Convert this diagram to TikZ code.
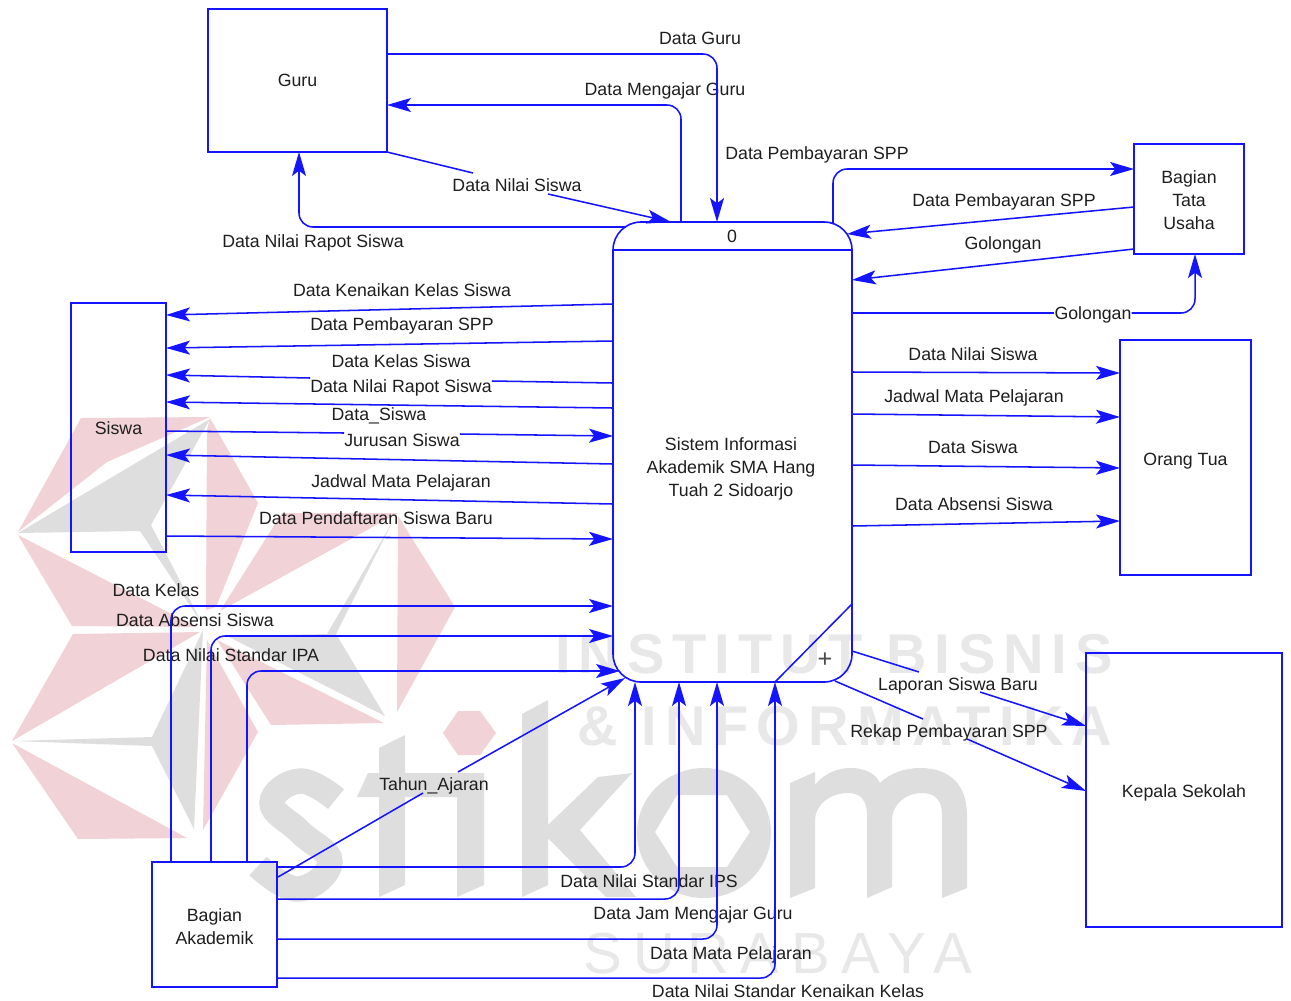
\documentclass[tikz,border=0pt]{standalone}
\usepackage{fontspec}
\setmainfont{Liberation Sans}
\usetikzlibrary{arrows.meta}
\definecolor{flow}{RGB}{20,20,255}
\definecolor{wmpink}{RGB}{241,210,214}
\definecolor{wmgray}{RGB}{222,222,222}
\definecolor{wmtext}{RGB}{232,232,232}
\definecolor{ink}{RGB}{30,30,30}
\newcommand{\dropline}[1]{\rule{0pt}{#1}}
\tikzset{
  entity/.style={draw=flow,line width=1.2pt,outer sep=0pt,inner sep=0pt,align=center,font=\fontsize{13.3}{17.25}\selectfont,text=ink},
  lab/.style={font=\fontsize{13.3}{16}\selectfont,text=ink,inner sep=0pt,text height=11.5pt,text depth=1.7pt},
  flowline/.style={draw=flow,line width=1.15pt},
  flowarrow/.style={flowline,-{Stealth[length=18pt,width=10.5pt,inset=4pt]}},
  bent/.style={rounded corners=10.5pt},
  pk/.style={fill=wmpink,draw=none},
  gy/.style={fill=wmgray,draw=none},
  wmt/.style={text=wmtext,inner sep=0pt,anchor=base west}
}
\begin{document}
\begin{tikzpicture}[x=0.75pt,y=-0.75pt]
\path[use as bounding box,fill=white] (0,0) rectangle (1291,1000);
% --- watermark star ---
\fill[pk] (81,418) -- (210,417) -- (107,462) -- (18,532) -- cycle;
\fill[gy] (210,419) -- (151,525) -- (203,625) -- (140,531) -- (18,533) -- cycle;
\fill[pk] (18,535) -- (197,627) -- (72,626) -- cycle;
\fill[pk] (210,418) -- (258,503) -- (216,607) -- (206,610) -- (207,430) -- cycle;
\fill[pk] (282,513) -- (398,513) -- (220,611) -- cycle;
\fill[pk] (398,516) -- (455,607) -- (397,712) -- cycle;
\fill[gy] (227,636) -- (327,634) -- (393,521) -- (336,634) -- (385,716) -- cycle;
\fill[pk] (73,634) -- (200,632) -- (12,741) -- cycle;
\fill[gy] (203,630) -- (152,737) -- (13,741) -- (152,746) -- (194,829) -- cycle;
\fill[pk] (12,743) -- (187,838) -- (78,839) -- cycle;
\fill[pk] (207,640) -- (258,732) -- (203,830) -- cycle;
\fill[pk] (217,640) -- (384,723) -- (271,725) -- cycle;
\fill[pk] (443,733) -- (458,711) -- (480,711) -- (496,733) -- (480,755) -- (458,755) -- cycle;
% --- watermark stikom ---
\draw[wmgray,line width=19pt] plot[smooth,tension=0.75] coordinates {(336,799) (300,781) (272,803) (300,832) (330,862) (298,889) (258,866)};
\fill[gy] (379,748) -- (405,735) -- (405,773) -- (484,773) -- (484,885) -- (457,897) -- (457,797) -- (405,797) -- (405,885) -- (379,897) -- (379,797) -- (357,797) -- (368,773) -- (379,773) -- cycle;
\fill[gy] (522,714) -- (548,700) -- (548,825) -- (598,777) -- (632,773) -- (580,830) -- (636,897) -- (606,897) -- (548,838) -- (548,885) -- (522,897) -- cycle;
\fill[gy,even odd rule] (704,833) ellipse [x radius=67,y radius=65] (655,832) -- (677,795) -- (727,795) -- (750,832) -- (727,867) -- (677,867) -- cycle;
\fill[gy] (790,783) -- (815,772) -- (815,785) .. controls (825,772) and (840,768) .. (850,768) .. controls (865,768) and (875,773) .. (880,783) .. controls (890,773) and (905,768) .. (920,768) .. controls (950,768) and (967,785) .. (967,815) -- (967,888) -- (942,898) -- (942,815) .. controls (942,800) and (935,793) .. (922,793) .. controls (905,793) and (892,805) .. (892,820) -- (892,887) -- (867,898) -- (867,815) .. controls (867,800) and (860,793) .. (848,793) .. controls (830,793) and (815,805) .. (815,820) -- (815,888) -- (790,898) -- cycle;
\node[wmt,font=\fontsize{42}{42}\selectfont\bfseries\addfontfeature{LetterSpace=14.2}] (wm1) at (555,673) {INSTITUT BISNIS};
\node[wmt,font=\fontsize{42}{42}\selectfont\bfseries\addfontfeature{LetterSpace=14.8}] (wm2) at (577,745) {\& INFORMATIKA};
\node[wmt,font=\fontsize{43.5}{44}\selectfont\addfontfeature{LetterSpace=20.2}] (wm3) at (583,973) {SURABAYA};
% --- entities ---
\node[entity,minimum width=134.25pt,minimum height=107.25pt] (guru) at (297.5,80.5) {Guru};
\node[entity,minimum width=71.25pt,minimum height=186.75pt] (siswa) at (118.5,427.5) {\dropline{11pt}Siswa};
\node[entity,minimum width=82.5pt,minimum height=82.5pt] (btu) at (1189,199) {\dropline{11pt}Bagian\\Tata\\Usaha};
\node[entity,minimum width=98.25pt,minimum height=176.25pt] (ortu) at (1185.5,457.5) {\dropline{14pt}Orang Tua};
\node[entity,minimum width=147pt,minimum height=205.5pt] (kepsek) at (1184,790) {\dropline{14pt}Kepala Sekolah};
\node[entity,minimum width=93.75pt,minimum height=93.75pt] (akad) at (214.5,924.5) {\dropline{12.5pt}Bagian\\Akademik};
\node[entity,rounded corners=21pt,minimum width=179.25pt,minimum height=345pt] (proc) at (732.5,452) {};
\draw[flowline] (proc.west |- 0,250) -- (proc.east |- 0,250);
\coordinate (diagA) at (775,682);
\draw[flowline] (diagA) -- (proc.east |- 0,604);
\node[lab] (pid) at (732,236) {0};
\node[lab,align=center,text height=,text depth=,font=\fontsize{13.3}{17.25}\selectfont] (ptext) at (731,469) {Sistem Informasi\\Akademik SMA Hang\\Tuah 2 Sidoarjo};
\node[lab,font=\fontsize{19}{19}\selectfont,text height=9pt,text depth=0pt,text=black!70] (pplus) at (825,661) {+};
% --- labels ---
\node[lab] (l1) at (700,38) {Data Guru};
\node[lab] (l2) at (665,89) {Data Mengajar Guru};
\node[lab] (l3) at (517,185) {Data Nilai Siswa};
\node[lab] (l4) at (313,241) {Data Nilai Rapot Siswa};
\node[lab] (l5) at (817,153) {Data Pembayaran SPP};
\node[lab] (l6) at (1004,200) {Data Pembayaran SPP};
\node[lab] (l7) at (1003,243) {Golongan};
\node[lab] (l8) at (1093,313) {Golongan};
\node[lab] (l9) at (973,354) {Data Nilai Siswa};
\node[lab] (l10) at (974,396) {Jadwal Mata Pelajaran};
\node[lab] (l11) at (973,447) {Data Siswa};
\node[lab] (l12) at (974,504) {Data Absensi Siswa};
\node[lab] (l13) at (958,684) {Laporan Siswa Baru};
\node[lab] (l14) at (949,731) {Rekap Pembayaran SPP};
\node[lab] (l15) at (402,290) {Data Kenaikan Kelas Siswa};
\node[lab] (l16) at (402,324) {Data Pembayaran SPP};
\node[lab] (l17) at (401,361) {Data Kelas Siswa};
\node[lab] (l18) at (401,386) {Data Nilai Rapot Siswa};
\node[lab] (l19) at (379,414) {Data\_Siswa};
\node[lab] (l20) at (402,440) {Jurusan Siswa};
\node[lab] (l21) at (401,481) {Jadwal Mata Pelajaran};
\node[lab] (l22) at (376,518) {Data Pendaftaran Siswa Baru};
\node[lab] (l23) at (156,590) {Data Kelas};
\node[lab] (l24) at (195,620) {Data Absensi Siswa};
\node[lab] (l25) at (231,655) {Data Nilai Standar IPA};
\node[lab] (l26) at (434,784) {Tahun\_Ajaran};
\node[lab] (l27) at (649,881) {Data Nilai Standar IPS};
\node[lab] (l28) at (693,913) {Data Jam Mengajar Guru};
\node[lab] (l29) at (731,953) {Data Mata Pelajaran};
\node[lab] (l30) at (788,991) {Data Nilai Standar Kenaikan Kelas};
% --- free points ---
\coordinate (a1) at (717,54);
\coordinate (a2) at (681,105);
\coordinate (g1) at (473,173);
\coordinate (g2) at (548,194);
\coordinate (c1) at (671,222);
\coordinate (c2) at (626,227);
\coordinate (c3) at (299,227);
\coordinate (c4) at (833,223);
\coordinate (c5) at (833,169);
\coordinate (c6) at (847,234);
\coordinate (c7) at (1195,313);
\coordinate (r1a) at (919,672);
\coordinate (r1b) at (980,692);
\coordinate (r2s) at (835,681);
\coordinate (r2a) at (923,719);
\coordinate (r2b) at (967,739);
\coordinate (t1) at (278,877);
\coordinate (t2) at (423,793);
\coordinate (t3) at (458,772);
\coordinate (t4) at (625,678);
\coordinate (b1) at (171,606);
\coordinate (b2) at (211,636);
\coordinate (b3) at (247,671);
\coordinate (b3e) at (620,671);
\coordinate (d1) at (635,867);
\coordinate (d2) at (679,899);
\coordinate (d3) at (717,939);
\coordinate (d4) at (775,978);
% --- Guru ---
\draw[flowarrow,bent] (guru.east |- 0,54) -- (a1) -- (a1 |- proc.north);
\draw[flowarrow,bent] (proc.north -| a2) -- (a2) -- (guru.east |- a2);
\draw[flowline] (guru.south east) -- (g1);
\draw[flowarrow] (g2) -- (c1);
\draw[flowarrow,bent] (c2) -- (c3) -- (c3 |- guru.south);
% --- Bagian Tata Usaha ---
\draw[flowarrow,bent] (c4) -- (c5) -- (btu.west |- c5);
\draw[flowarrow] (btu.west |- 0,207) -- (c6);
\draw[flowarrow] (btu.west |- 0,249) -- (proc.east |- 0,280);
\draw[flowline] (proc.east |- 0,313) -- (l8.west);
\draw[flowarrow,bent] (l8.east) -- (c7) -- (c7 |- btu.south);
% --- Orang Tua ---
\draw[flowarrow] (proc.east |- 0,372) -- (ortu.west |- 0,373);
\draw[flowarrow] (proc.east |- 0,414) -- (ortu.west |- 0,417);
\draw[flowarrow] (proc.east |- 0,465) -- (ortu.west |- 0,468);
\draw[flowarrow] (proc.east |- 0,526) -- (ortu.west |- 0,521);
% --- Kepala Sekolah ---
\draw[flowline] (proc.east |- 0,651) -- (r1a);
\draw[flowarrow] (r1b) -- (kepsek.west |- 0,726);
\draw[flowline] (r2s) -- (r2a);
\draw[flowarrow] (r2b) -- (kepsek.west |- 0,791);
% --- Siswa ---
\draw[flowarrow] (proc.west |- 0,304) -- (siswa.east |- 0,315);
\draw[flowarrow] (proc.west |- 0,341) -- (siswa.east |- 0,348);
\draw[flowline] (proc.west |- 0,383) -- (l18.east |- 0,381);
\draw[flowarrow] (l18.west |- 0,378) -- (siswa.east |- 0,375);
\draw[flowarrow] (proc.west |- 0,408) -- (siswa.east |- 0,402);
\draw[flowline] (siswa.east |- 0,431) -- (l20.west |- 0,433);
\draw[flowarrow] (l20.east |- 0,434) -- (proc.west |- 0,436);
\draw[flowarrow] (proc.west |- 0,464) -- (siswa.east |- 0,455);
\draw[flowarrow] (proc.west |- 0,504) -- (siswa.east |- 0,495);
\draw[flowarrow] (siswa.east |- 0,536) -- (proc.west |- 0,539);
% --- Bagian Akademik ---
\draw[flowarrow,bent] (b1 |- akad.north) -- (b1) -- (proc.west |- b1);
\draw[flowarrow,bent] (b2 |- akad.north) -- (b2) -- (proc.west |- b2);
\draw[flowarrow,bent] (b3 |- akad.north) -- (b3) -- (b3e);
\draw[flowline] (t1) -- (t2);
\draw[flowarrow] (t3) -- (t4);
\draw[flowarrow,bent] (akad.east |- d1) -- (d1) -- (d1 |- proc.south);
\draw[flowarrow,bent] (akad.east |- d2) -- (d2) -- (d2 |- proc.south);
\draw[flowarrow,bent] (akad.east |- d3) -- (d3) -- (d3 |- proc.south);
\draw[flowarrow,bent] (akad.east |- d4) -- (d4) -- (d4 |- proc.south);
\end{tikzpicture}
\end{document}
